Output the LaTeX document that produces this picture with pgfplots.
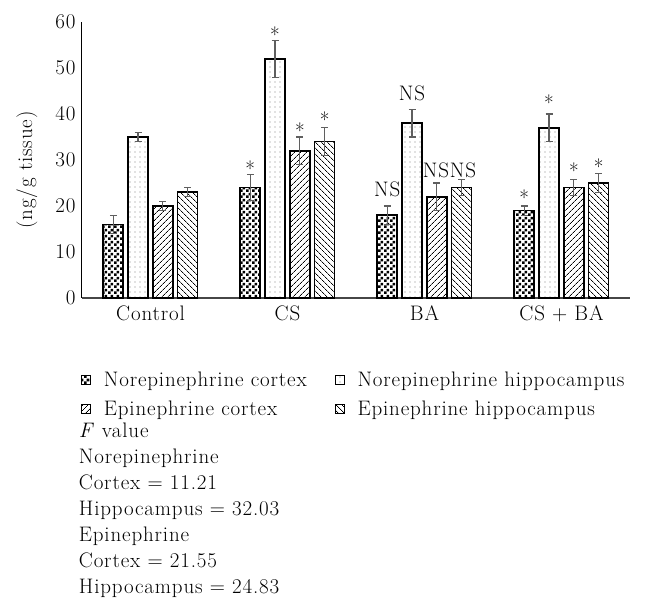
\documentclass[border=0pt]{standalone}
\usepackage{fontspec}
\setmainfont{Latin Modern Roman}[LetterSpace=4]
\usepackage{pgfplots}
\pgfplotsset{compat=1.18}
\usetikzlibrary{patterns,patterns.meta}

\tikzdeclarepattern{
  name=checker,
  type=uncolored,
  bounding box={(0,0) and (6pt,6pt)},
  tile size={(6pt,6pt)},
  code={\fill (0,0) rectangle (3pt,3pt); \fill (3pt,3pt) rectangle (6pt,6pt);}
}

\definecolor{errgray}{RGB}{95,95,95}
\definecolor{axgray}{RGB}{70,70,70}

\newcommand{\bigfont}{\fontsize{21}{25}\selectfont}

\pgfplotsset{
  mybar/.style={draw=black, line width=1.6pt,
    error bars/y dir=both, error bars/y explicit,
    error bars/error bar style={errgray, line width=1.2pt},
    error bars/error mark options={errgray, line width=1.2pt, mark size=3.5pt, rotate=90}},
}

\begin{document}
\begin{tikzpicture}
\begin{axis}[
  scale only axis, width=548pt, height=276pt,
  ybar=4.8pt, bar width=20pt,
  xmin=-0.5, xmax=3.5, ymin=0, ymax=60,
  axis x line*=bottom, axis y line*=left,
  x axis line style={axgray, line width=1.5pt},
  y axis line style={black, line width=1pt},
  xtick={0,1,2,3}, xticklabels={Control,CS,BA,CS + BA},
  ytick={0,10,...,60},
  major tick length=0pt,
  tick label style={font=\bigfont},
  /pgf/number format/assume math mode=true,
  yticklabel style={xshift=-3pt},
  xticklabel style={yshift=-4pt},
  ylabel={(ng/g tissue)},
  ylabel style={font=\bigfont, at={(axis description cs:-0.1004,0.464)}, anchor=center},
  clip=false,
  legend columns=2,
  legend cell align=left,
  legend style={at={(rel axis cs:-0.002,-0.261)}, anchor=north west, draw=none, fill=none,
    inner sep=0pt, font=\bigfont, row sep=9pt,
    /tikz/every odd column/.append style={column sep=11pt},
    /tikz/every even column/.append style={column sep=26pt}},
  legend image code/.code={\draw[#1, line width=0.8pt] (0pt,-4.5pt) rectangle (9pt,4.5pt);},
]
\addplot[mybar, pattern=checker] table[x=x, y=y, y error=e] {
x y e
0 16 2
1 24 2.8
2 18 2
3 19 1
};
\addplot[mybar, pattern={Dots[distance=5pt, radius=0.6pt]}, pattern color=gray] table[x=x, y=y, y error=e] {
x y e
0 35 1
1 52 4
2 38 3
3 37 3
};
\addplot[mybar, pattern={Lines[angle=45, distance=4pt, line width=0.7pt]}] table[x=x, y=y, y error=e] {
x y e
0 20 1
1 32 3
2 22 3
3 24 1.8
};
\addplot[mybar, pattern={Lines[angle=-45, distance=4pt, line width=0.7pt]}] table[x=x, y=y, y error=e] {
x y e
0 23 1
1 34 3
2 24 1.8
3 25 2
};
\legend{Norepinephrine cortex, Norepinephrine hippocampus, Epinephrine cortex, Epinephrine hippocampus}

\node[anchor=base, font=\bigfont, inner sep=0pt] at (axis cs:0.728,26.4) {*};
\node[anchor=base, font=\bigfont, inner sep=0pt] at (axis cs:0.909,55.6) {*};
\node[anchor=base, font=\bigfont, inner sep=0pt] at (axis cs:1.091,34.7) {*};
\node[anchor=base, font=\bigfont, inner sep=0pt] at (axis cs:1.272,37.1) {*};
\node[anchor=base, font=\bigfont, inner sep=0pt] at (axis cs:1.728,22.0) {NS};
\node[anchor=base, font=\bigfont, inner sep=0pt] at (axis cs:1.909,43.0) {NS};
\node[anchor=base, font=\bigfont, inner sep=0pt] at (axis cs:2.084,26.3) {NS};
\node[anchor=base, font=\bigfont, inner sep=0pt] at (axis cs:2.281,26.3) {NS};
\node[anchor=base, font=\bigfont, inner sep=0pt] at (axis cs:2.728,20.1) {*};
\node[anchor=base, font=\bigfont, inner sep=0pt] at (axis cs:2.909,40.7) {*};
\node[anchor=base, font=\bigfont, inner sep=0pt] at (axis cs:3.091,26.0) {*};
\node[anchor=base, font=\bigfont, inner sep=0pt] at (axis cs:3.272,26.9) {*};

\node[anchor=base west, inner sep=0pt, font=\bigfont] at (rel axis cs:-0.006,-0.507) {\textit{F} value};
\node[anchor=base west, inner sep=0pt, font=\bigfont] at (rel axis cs:-0.006,-0.601) {Norepinephrine};
\node[anchor=base west, inner sep=0pt, font=\bigfont] at (rel axis cs:-0.006,-0.694) {Cortex = 11.21};
\node[anchor=base west, inner sep=0pt, font=\bigfont] at (rel axis cs:-0.006,-0.788) {Hippocampus = 32.03};
\node[anchor=base west, inner sep=0pt, font=\bigfont] at (rel axis cs:-0.006,-0.882) {Epinephrine};
\node[anchor=base west, inner sep=0pt, font=\bigfont] at (rel axis cs:-0.006,-0.975) {Cortex = 21.55};
\node[anchor=base west, inner sep=0pt, font=\bigfont] at (rel axis cs:-0.006,-1.069) {Hippocampus = 24.83};

\path (rel axis cs:-0.1496,1.0797) rectangle (rel axis cs:1.0292,-1.1377);
\end{axis}
\end{tikzpicture}
\end{document}
